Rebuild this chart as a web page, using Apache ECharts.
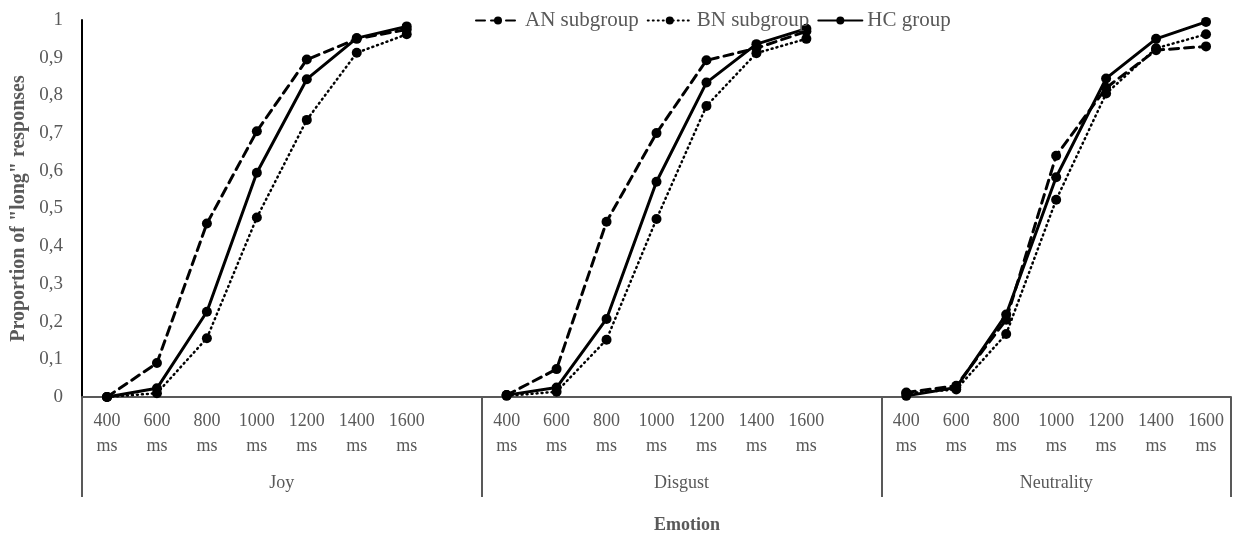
<!DOCTYPE html>
<html>
<head>
<meta charset="utf-8">
<script src="https://cdn.jsdelivr.net/npm/echarts@6/dist/echarts.min.js"></script>
<style>
  html, body { margin: 0; padding: 0; background: #fff; }
  #chart { width: 1238px; height: 539px; }
</style>
</head>
<body>
<div id="chart"></div>
<script>
// categories
const emotions = ['Joy', 'Disgust', 'Neutrality'];
const durations = ['400', '600', '800', '1000', '1200', '1400', '1600'];
const yTicks = ['0', '0,1', '0,2', '0,3', '0,4', '0,5', '0,6', '0,7', '0,8', '0,9', '1'];

// AN subgroup
const anJoy = [0.0, 0.09, 0.46, 0.705, 0.895, 0.95, 0.975];
const anDisgust = [0.005, 0.074, 0.465, 0.70, 0.893, 0.925, 0.97];
const anNeutrality = [0.012, 0.03, 0.205, 0.64, 0.82, 0.92, 0.93];
// BN subgroup
const bnJoy = [0.0, 0.01, 0.156, 0.476, 0.735, 0.913, 0.962];
const bnDisgust = [0.003, 0.014, 0.152, 0.472, 0.772, 0.912, 0.95];
const bnNeutrality = [0.01, 0.02, 0.167, 0.523, 0.805, 0.925, 0.962];
// HC group
const hcJoy = [0.0, 0.023, 0.226, 0.595, 0.843, 0.952, 0.983];
const hcDisgust = [0.005, 0.025, 0.207, 0.571, 0.834, 0.936, 0.977];
const hcNeutrality = [0.003, 0.025, 0.219, 0.583, 0.845, 0.95, 0.995];

const textColor = '#595959';
const font = 'Liberation Serif';

// one empty slot between emotion blocks, like the excel sheet
function joinGroups(groups) {
    let out = [];
    groups.forEach((g, i) => {
        out = out.concat(g);
        if (i < groups.length - 1) out.push(null);
    });
    return out;
}

const xLabels = joinGroups(emotions.map(() => durations.map(d => d + '\nms')))
    .map(v => v === null ? '' : v);

function makeSeries(name, data, type) {
    return {
        name: name,
        type: 'line',
        data: data,
        symbol: 'circle',
        symbolSize: 10,
        connectNulls: false,
        itemStyle: { color: '#000' },
        lineStyle: { color: '#000', width: type === 'dotted' ? 2.5 : 3, type: type === 'dashed' ? [9, 6] : type === 'dotted' ? [1, 4] : 'solid', cap: 'round' }
    };
}

var myChart = echarts.init(document.getElementById('chart'));
let option = {
    animation: false,
    textStyle: { fontFamily: font },
    grid: { left: 82, right: 7, top: 20, bottom: 142, outerBoundsMode: 'none', containLabel: false },
    legend: {
        top: 5,
        left: 470,
        itemWidth: 44,
        itemHeight: 10,
        itemGap: 8,
        textStyle: { color: textColor, fontSize: 21, fontFamily: font },
        data: ['AN subgroup', 'BN subgroup', 'HC group']
    },
    xAxis: {
        type: 'category',
        boundaryGap: true,
        data: xLabels,
        axisLine: { lineStyle: { color: textColor, width: 2 } },
        axisTick: {
            show: true,
            length: 100,
            interval: (idx) => idx % 8 === 0,
            lineStyle: { color: textColor, width: 2 }
        },
        axisLabel: {
            interval: 0,
            color: textColor,
            fontSize: 18,
            lineHeight: 25,
            margin: 12,
            fontFamily: font
        },
        splitLine: { show: false }
    },
    yAxis: {
        type: 'value',
        min: 0,
        max: 1,
        interval: 0.1,
        name: 'Proportion of "long" responses',
        nameLocation: 'middle',
        nameGap: 52,
        nameTextStyle: { color: textColor, fontSize: 20, fontWeight: 'bold', fontFamily: font },
        axisLine: { show: true, lineStyle: { color: '#000', width: 2 } },
        axisTick: { show: false },
        splitLine: { show: false },
        axisLabel: {
            color: textColor,
            fontSize: 19,
            margin: 19,
            fontFamily: font,
            formatter: (v) => yTicks[Math.round(v * 10)]
        }
    },
    series: [
        makeSeries('AN subgroup', joinGroups([anJoy, anDisgust, anNeutrality]), 'dashed'),
        makeSeries('BN subgroup', joinGroups([bnJoy, bnDisgust, bnNeutrality]), 'dotted'),
        makeSeries('HC group', joinGroups([hcJoy, hcDisgust, hcNeutrality]), 'solid')
    ]
};
myChart.setOption(option);

// group names under the time labels, centred on each block
const c0 = myChart.convertToPixel({ xAxisIndex: 0 }, 0);
const c1 = myChart.convertToPixel({ xAxisIndex: 0 }, 1);
const half = (c1 - c0) / 2;
const last = xLabels.length - 1;
const bounds = [0, 8, 16].map(k => myChart.convertToPixel({ xAxisIndex: 0 }, k) - half)
    .concat([myChart.convertToPixel({ xAxisIndex: 0 }, last) + half]);
const axisY = myChart.convertToPixel({ yAxisIndex: 0 }, 0);

const graphics = emotions.map((name, i) => ({
    type: 'text',
    x: (bounds[i] + bounds[i + 1]) / 2,
    y: axisY + 86,
    style: { text: name, fill: textColor, font: '18px "Liberation Serif"', textAlign: 'center', textVerticalAlign: 'middle' }
}));
graphics.push({
    type: 'text',
    x: 687,
    y: axisY + 128,
    style: { text: 'Emotion', fill: textColor, font: 'bold 18px "Liberation Serif"', textAlign: 'center', textVerticalAlign: 'middle' }
});
myChart.setOption({ graphic: graphics });
</script>
</body>
</html>
